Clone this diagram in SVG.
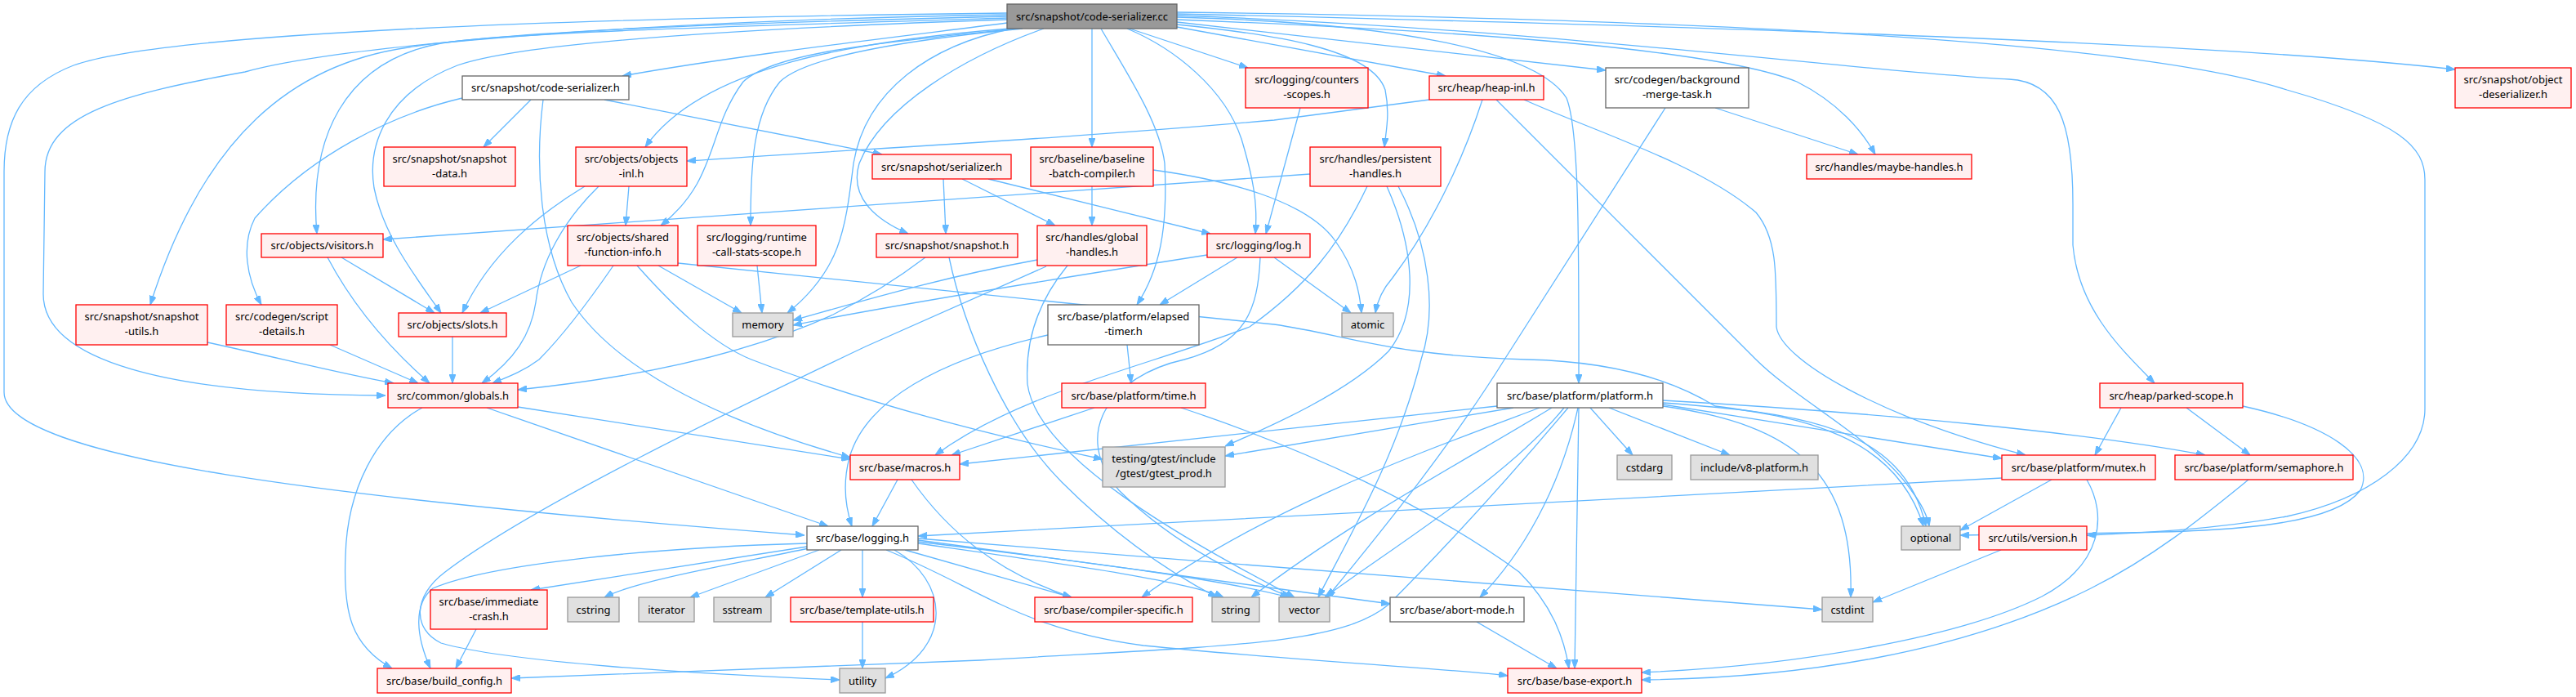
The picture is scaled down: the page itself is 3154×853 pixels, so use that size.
<svg xmlns="http://www.w3.org/2000/svg" width="3154" height="853" viewBox="0 0 3154 853">
<defs>
<style>
.e path{fill:none;stroke:#63B8FF;stroke-width:1.3;marker-end:url(#a)}
.n text{font-family:"Noto Sans","DejaVu Sans",sans-serif;font-size:13px;text-anchor:middle;fill:#000}
.red rect{fill:#FFF0F0;stroke:#FF0000;stroke-width:1.3}
.gray rect{fill:#E0E0E0;stroke:#999999;stroke-width:1.3}
.wh rect{fill:#FFFFFF;stroke:#666666;stroke-width:1.3}
.root rect{fill:#999999;stroke:#666666;stroke-width:1.3}
</style>
<marker id="a" markerWidth="11" markerHeight="8" refX="11" refY="4" orient="auto" markerUnits="userSpaceOnUse"><path d="M0,0 L11,4 L0,8 z" fill="#63B8FF" stroke="#63B8FF" stroke-width="1"/></marker>
</defs>
<rect width="3154" height="853" fill="#FFFFFF"/>
<g id="edges" class="e">
<path d="M1233,28 C1100,45 900,68 762,93"/>
<path d="M1233,20 C900,28 620,38 500,58 C360,78 250,165 184,373"/>
<path d="M1233,18 C800,25 420,55 300,88 C150,115 55,140 55,210 L53,360 C53,440 200,483 472,484"/>
<path d="M1233,16 C700,22 200,40 90,80 C25,105 5,150 5,210 L5,480 C5,560 400,610 985,655"/>
<path d="M1233,22 C900,32 620,40 540,53 C420,75 378,170 388,286"/>
<path d="M1233,24 C900,35 640,52 560,80 C470,115 450,180 458,230 C470,290 510,340 540,383"/>
<path d="M1236,35 C1050,50 860,80 790,180"/>
<path d="M1245,35 C1100,50 950,62 910,100 C865,160 880,220 809,276"/>
<path d="M1252,35 C1100,50 985,70 955,100 C922,140 919,200 919,276"/>
<path d="M1240,35 C1140,55 1060,110 1045,200 C1035,280 1030,330 964,383"/>
<path d="M1278,35 C1180,70 1080,130 1052,200 C1040,240 1070,268 1112,286"/>
<path d="M1337,35 L1337,180"/>
<path d="M1348,35 C1380,90 1420,150 1426,200 C1430,280 1420,330 1392,373"/>
<path d="M1380,35 C1440,60 1500,110 1520,170 C1535,220 1540,250 1537,286"/>
<path d="M1383,35 L1528,83"/>
<path d="M1441,30 C1560,42 1680,60 1696,110 C1702,140 1697,160 1695,180"/>
<path d="M1441,33 L1770,93"/>
<path d="M1441,27 L1966,86"/>
<path d="M1441,24 C1800,38 2100,60 2200,100 C2250,125 2280,160 2296,189"/>
<path d="M1441,21 C1700,28 1880,60 1918,120 C1934,160 1933,300 1933,469"/>
<path d="M1441,19 C1900,35 2300,90 2460,97 C2520,100 2538,150 2538,250 L2538,300 C2545,380 2600,430 2638,469"/>
<path d="M1441,17 C2000,30 2700,50 3006,85"/>
<path d="M1441,15 C2000,22 2600,45 2800,110 C2940,150 2969,180 2969,220 L2969,500 C2969,560 2900,610 2800,632 C2700,650 2600,653 2555,655"/>
<path d="M650,122 L592,180"/>
<path d="M740,122 L1080,189"/>
<path d="M566,120 C480,140 380,190 312,267 C295,300 302,340 320,373"/>
<path d="M665,122 C655,200 660,300 700,370 C760,460 900,520 1041,560"/>
<path d="M254,419 C350,440 420,458 482,469"/>
<path d="M404,422 L512,469"/>
<path d="M418,315 L532,383"/>
<path d="M401,315 C430,370 470,420 526,469"/>
<path d="M554,412 L554,469"/>
<path d="M770,228 L766,276"/>
<path d="M716,228 C660,262 600,310 566,383"/>
<path d="M733,228 C690,270 662,320 656,370 C650,410 630,440 590,469"/>
<path d="M711,325 L588,383"/>
<path d="M751,325 C720,370 690,410 660,440 C640,455 620,462 603,469"/>
<path d="M806,325 L908,383"/>
<path d="M780,325 C820,370 870,420 920,440 C1050,490 1200,530 1350,562"/>
<path d="M830,322 C1100,350 1400,380 1560,397 C1650,410 1700,435 1870,440 C1960,442 2040,460 2100,497 C2200,510 2320,530 2355,644"/>
<path d="M927,325 L933,383"/>
<path d="M1155,219 L1158,286"/>
<path d="M1178,219 L1292,276"/>
<path d="M1210,219 L1482,286"/>
<path d="M1337,228 L1337,276"/>
<path d="M1412,208 C1500,220 1600,245 1635,295 C1660,330 1665,360 1667,383"/>
<path d="M1133,315 C1100,340 1060,365 1020,385 C900,440 750,465 634,477"/>
<path d="M1162,315 C1180,400 1230,520 1300,590 C1380,670 1450,710 1490,731"/>
<path d="M1270,318 C1150,340 1050,370 971,392"/>
<path d="M1307,325 C1270,370 1255,420 1258,470 C1270,560 1450,660 1585,731"/>
<path d="M1281,326 L1060,424 C900,500 650,620 545,700 C505,730 505,770 540,787 C620,810 850,825 1028,832"/>
<path d="M1478,312 C1300,340 1100,372 971,398"/>
<path d="M1515,315 L1420,373"/>
<path d="M1560,315 L1654,383"/>
<path d="M1543,315 C1540,380 1525,420 1450,440 C1360,460 1310,530 1370,600 C1440,670 1530,710 1580,731"/>
<path d="M1592,132 L1550,286"/>
<path d="M1750,122 L1560,147 C1300,170 1060,182 841,197"/>
<path d="M1815,122 C1790,200 1750,280 1705,340 C1692,355 1686,370 1684,383"/>
<path d="M1832,122 L2150,440 C2200,490 2300,540 2340,600 C2355,620 2360,632 2362,644"/>
<path d="M1866,122 C1950,160 2080,200 2150,260 C2175,290 2175,330 2175,400 C2180,440 2300,510 2480,557"/>
<path d="M1604,213 L469,293"/>
<path d="M1674,228 C1640,300 1600,350 1530,400 C1400,450 1250,480 1145,557"/>
<path d="M1698,228 C1730,300 1740,380 1700,430 C1650,480 1560,520 1500,546"/>
<path d="M1712,228 C1750,300 1760,380 1740,440 C1710,560 1650,660 1614,731"/>
<path d="M2100,132 L2275,189"/>
<path d="M2039,132 L1842,440 C1780,540 1700,640 1625,731"/>
<path d="M1340,499 L1165,557"/>
<path d="M1446,499 C1600,550 1750,620 1860,700 C1900,740 1915,780 1921,818"/>
<path d="M1380,422 L1385,469"/>
<path d="M1283,410 C1150,440 1060,490 1040,560 C1032,590 1035,620 1043,644"/>
<path d="M1099,587 L1068,644"/>
<path d="M1116,587 C1160,650 1220,700 1312,731"/>
<path d="M634,498 L1041,562"/>
<path d="M596,499 L1014,644"/>
<path d="M517,499 C460,530 425,600 423,680 C420,750 430,790 480,818"/>
<path d="M583,770 L558,818"/>
<path d="M1056,761 L1056,818"/>
<path d="M1808,761 L1906,818"/>
<path d="M2451,585 C2000,610 1500,635 1124,656"/>
<path d="M2512,587 L2400,649"/>
<path d="M2555,587 C2580,630 2575,690 2500,730 C2400,780 2200,815 2010,823"/>
<path d="M2753,587 C2700,630 2640,680 2560,720 C2400,800 2200,830 2010,832"/>
<path d="M2597,499 L2565,557"/>
<path d="M2677,499 L2755,557"/>
<path d="M2746,497 C2850,520 2910,560 2890,600 C2860,640 2750,650 2600,652 L2400,655"/>
<path d="M2450,673 L2293,737"/>
<path d="M1947,499 L1999,557"/>
<path d="M1970,499 L2118,557"/>
<path d="M1833,497 L1175,568"/>
<path d="M1853,499 L1500,558"/>
<path d="M1885,499 C1750,550 1550,620 1398,731"/>
<path d="M1900,499 C1800,560 1650,640 1532,731"/>
<path d="M1915,499 C1850,580 1720,660 1622,731"/>
<path d="M1920,499 C1860,570 1780,660 1700,740 C1640,790 1500,790 1200,808 L626,830"/>
<path d="M1932,499 C1910,600 1862,680 1812,731"/>
<path d="M1933,499 L1928,818"/>
<path d="M2036,495 L2451,561"/>
<path d="M2036,490 C2300,505 2560,530 2700,557"/>
<path d="M2036,493 C2200,505 2330,520 2358,644"/>
<path d="M2036,497 C2200,520 2270,580 2266,731"/>
<path d="M988,669 L650,722"/>
<path d="M990,671 C900,690 780,710 740,731"/>
<path d="M1003,673 L845,731"/>
<path d="M1030,673 L937,731"/>
<path d="M1056,673 L1056,731"/>
<path d="M1095,673 C1160,710 1170,790 1084,830"/>
<path d="M1108,673 L1312,731"/>
<path d="M1124,665 C1300,690 1450,710 1498,731"/>
<path d="M1124,663 C1350,690 1500,710 1578,731"/>
<path d="M1124,661 L1702,739"/>
<path d="M1124,659 C1500,690 1900,720 2231,746"/>
<path d="M1085,673 C1200,720 1250,770 1400,790 C1600,810 1800,820 1846,827"/>
<path d="M988,665 C800,670 600,690 530,720 C505,740 510,780 527,818"/>
</g>
<g id="n0" class="n root"><rect x="1233" y="5" width="208" height="30"/><text x="1337" y="24.5">src/snapshot/code-serializer.cc</text></g>
<g id="n1" class="n wh"><rect x="566" y="93" width="204" height="29"/><text x="668" y="112">src/snapshot/code-serializer.h</text></g>
<g id="n2" class="n red"><rect x="470" y="180" width="161" height="48"/><text x="550.5" y="198.5">src/snapshot/snapshot</text><text x="550.5" y="217">-data.h</text></g>
<g id="n3" class="n red"><rect x="705" y="180" width="136" height="48"/><text x="773" y="198.5">src/objects/objects</text><text x="773" y="217">-inl.h</text></g>
<g id="n4" class="n red"><rect x="1068" y="189" width="170" height="30"/><text x="1153" y="208.5">src/snapshot/serializer.h</text></g>
<g id="n5" class="n red"><rect x="1262" y="180" width="150" height="48"/><text x="1337" y="198.5">src/baseline/baseline</text><text x="1337" y="217">-batch-compiler.h</text></g>
<g id="n6" class="n red"><rect x="1525" y="83" width="150" height="49"/><text x="1600" y="101.5">src/logging/counters</text><text x="1600" y="120">-scopes.h</text></g>
<g id="n7" class="n red"><rect x="1750" y="93" width="140" height="29"/><text x="1820" y="112">src/heap/heap-inl.h</text></g>
<g id="n8" class="n red"><rect x="1604" y="180" width="160" height="48"/><text x="1684" y="198.5">src/handles/persistent</text><text x="1684" y="217">-handles.h</text></g>
<g id="n9" class="n wh"><rect x="1966" y="83" width="175" height="49"/><text x="2053.5" y="101.5">src/codegen/background</text><text x="2053.5" y="120">-merge-task.h</text></g>
<g id="n10" class="n red"><rect x="2212" y="189" width="202" height="30"/><text x="2313" y="208.5">src/handles/maybe-handles.h</text></g>
<g id="n11" class="n red"><rect x="3006" y="83" width="142" height="49"/><text x="3077" y="101.5">src/snapshot/object</text><text x="3077" y="120">-deserializer.h</text></g>
<g id="n12" class="n red"><rect x="320" y="286" width="149" height="29"/><text x="394.5" y="305">src/objects/visitors.h</text></g>
<g id="n13" class="n red"><rect x="695" y="276" width="135" height="49"/><text x="762.5" y="294.5">src/objects/shared</text><text x="762.5" y="313">-function-info.h</text></g>
<g id="n14" class="n red"><rect x="854" y="276" width="145" height="49"/><text x="926.5" y="294.5">src/logging/runtime</text><text x="926.5" y="313">-call-stats-scope.h</text></g>
<g id="n15" class="n red"><rect x="1073" y="286" width="173" height="29"/><text x="1159.5" y="305">src/snapshot/snapshot.h</text></g>
<g id="n16" class="n red"><rect x="1270" y="276" width="134" height="49"/><text x="1337" y="294.5">src/handles/global</text><text x="1337" y="313">-handles.h</text></g>
<g id="n17" class="n red"><rect x="1478" y="286" width="126" height="29"/><text x="1541" y="305">src/logging/log.h</text></g>
<g id="n18" class="n red"><rect x="93" y="373" width="161" height="49"/><text x="173.5" y="391.5">src/snapshot/snapshot</text><text x="173.5" y="410">-utils.h</text></g>
<g id="n19" class="n red"><rect x="277" y="373" width="136" height="49"/><text x="345" y="391.5">src/codegen/script</text><text x="345" y="410">-details.h</text></g>
<g id="n20" class="n red"><rect x="488" y="383" width="132" height="29"/><text x="554" y="402">src/objects/slots.h</text></g>
<g id="n21" class="n gray"><rect x="897" y="383" width="74" height="29"/><text x="934" y="402">memory</text></g>
<g id="n22" class="n wh"><rect x="1283" y="373" width="185" height="49"/><text x="1375.5" y="391.5">src/base/platform/elapsed</text><text x="1375.5" y="410">-timer.h</text></g>
<g id="n23" class="n gray"><rect x="1643" y="383" width="63" height="29"/><text x="1674.5" y="402">atomic</text></g>
<g id="n24" class="n red"><rect x="475" y="469" width="159" height="30"/><text x="554.5" y="488.5">src/common/globals.h</text></g>
<g id="n25" class="n red"><rect x="1300" y="469" width="176" height="30"/><text x="1388" y="488.5">src/base/platform/time.h</text></g>
<g id="n26" class="n wh"><rect x="1833" y="469" width="203" height="30"/><text x="1934.5" y="488.5">src/base/platform/platform.h</text></g>
<g id="n27" class="n red"><rect x="2571" y="469" width="175" height="30"/><text x="2658.5" y="488.5">src/heap/parked-scope.h</text></g>
<g id="n28" class="n red"><rect x="1041" y="557" width="134" height="30"/><text x="1108" y="576.5">src/base/macros.h</text></g>
<g id="n29" class="n gray"><rect x="1350" y="547" width="150" height="49"/><text x="1425" y="565.5">testing/gtest/include</text><text x="1425" y="584">/gtest/gtest_prod.h</text></g>
<g id="n30" class="n gray"><rect x="1980" y="557" width="67" height="30"/><text x="2013.5" y="576.5">cstdarg</text></g>
<g id="n31" class="n gray"><rect x="2070" y="557" width="156" height="30"/><text x="2148" y="576.5">include/v8-platform.h</text></g>
<g id="n32" class="n red"><rect x="2451" y="557" width="188" height="30"/><text x="2545" y="576.5">src/base/platform/mutex.h</text></g>
<g id="n33" class="n red"><rect x="2663" y="557" width="218" height="30"/><text x="2772" y="576.5">src/base/platform/semaphore.h</text></g>
<g id="n34" class="n wh"><rect x="988" y="644" width="136" height="29"/><text x="1056" y="663">src/base/logging.h</text></g>
<g id="n35" class="n gray"><rect x="2328" y="644" width="72" height="29"/><text x="2364" y="663">optional</text></g>
<g id="n36" class="n red"><rect x="2423" y="644" width="132" height="29"/><text x="2489" y="663">src/utils/version.h</text></g>
<g id="n37" class="n red"><rect x="527" y="722" width="143" height="48"/><text x="598.5" y="740.5">src/base/immediate</text><text x="598.5" y="759">-crash.h</text></g>
<g id="n38" class="n gray"><rect x="695" y="731" width="63" height="30"/><text x="726.5" y="750.5">cstring</text></g>
<g id="n39" class="n gray"><rect x="782" y="731" width="68" height="30"/><text x="816" y="750.5">iterator</text></g>
<g id="n40" class="n gray"><rect x="874" y="731" width="70" height="30"/><text x="909" y="750.5">sstream</text></g>
<g id="n41" class="n red"><rect x="968" y="731" width="175" height="30"/><text x="1055.5" y="750.5">src/base/template-utils.h</text></g>
<g id="n42" class="n red"><rect x="1267" y="731" width="193" height="30"/><text x="1363.5" y="750.5">src/base/compiler-specific.h</text></g>
<g id="n43" class="n gray"><rect x="1484" y="731" width="58" height="30"/><text x="1513" y="750.5">string</text></g>
<g id="n44" class="n gray"><rect x="1566" y="731" width="62" height="30"/><text x="1597" y="750.5">vector</text></g>
<g id="n45" class="n wh"><rect x="1702" y="731" width="164" height="30"/><text x="1784" y="750.5">src/base/abort-mode.h</text></g>
<g id="n46" class="n gray"><rect x="2231" y="731" width="62" height="30"/><text x="2262" y="750.5">cstdint</text></g>
<g id="n47" class="n red"><rect x="462" y="818" width="164" height="30"/><text x="544" y="837.5">src/base/build_config.h</text></g>
<g id="n48" class="n gray"><rect x="1028" y="818" width="56" height="30"/><text x="1056" y="837.5">utility</text></g>
<g id="n49" class="n red"><rect x="1846" y="818" width="164" height="30"/><text x="1928" y="837.5">src/base/base-export.h</text></g>
</svg>
